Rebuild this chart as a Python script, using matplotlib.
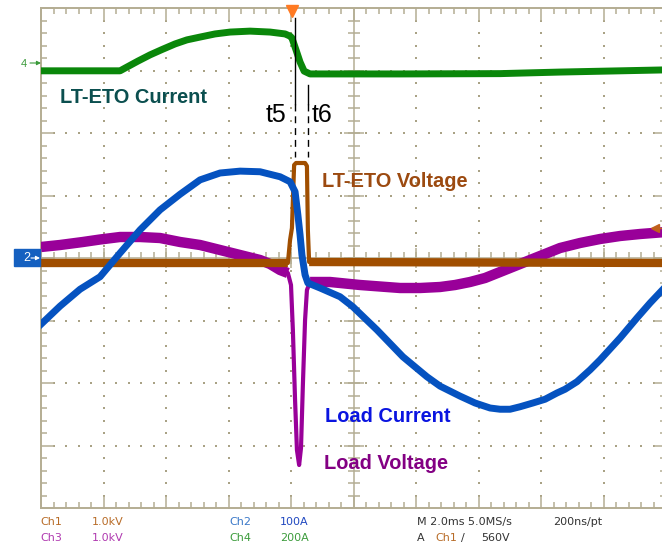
import numpy as np
import matplotlib
matplotlib.use("Agg")
import matplotlib.pyplot as plt
from matplotlib.patches import Rectangle

# ---------------- data (time in ms, 2 ms/div) ----------------
# Ch4 : LT-ETO current (A)
t_ch4 = [0.00, 2.53, 2.75, 3.10, 3.49, 3.87, 4.29, 4.67, 5.09, 5.57, 6.05,
         6.69, 7.33, 7.81, 7.97, 8.03, 8.16, 8.29, 8.42, 8.61, 11.49, 14.69,
         16.61, 20.00]
i_eto = [-25, -25, -13, 6, 26, 43, 61, 74, 83, 93, 99,
         102, 99, 93, 86, 80, 42, 3, -26, -35, -35, -34,
         -29, -22]

# Ch2 : load current (A)
t_ch2 = [0.00, 0.61, 1.25, 1.89, 2.53, 3.17, 3.81, 4.45, 5.09, 5.73, 6.37,
         7.01, 7.65, 7.97, 8.13, 8.22, 8.29, 8.35, 8.45, 8.54, 8.93, 9.57,
         9.98, 10.75, 11.58, 12.35, 12.77, 13.41, 13.89, 14.37, 14.69, 15.01,
         15.33, 15.74, 16.13, 16.51, 16.77, 17.15, 17.57, 17.89, 18.53, 19.07,
         19.49, 20.00]
i_load = [-106, -77, -50, -30, 8, 45, 77, 102, 125, 136, 139,
          138, 130, 122, 106, 69, 37, 5, -27, -40, -48, -62,
          -78, -115, -158, -190, -205, -221, -232, -240, -242, -242,
          -238, -232, -226, -216, -210, -198, -179, -163, -128, -96,
          -72, -45]

# Ch3 : load voltage (V)
t_ch3 = [0.00, 0.61, 1.34, 1.89, 2.53, 3.17, 3.81, 4.13, 4.45, 4.77, 5.09,
         5.41, 5.73, 6.05, 6.37, 6.69, 7.01, 7.33, 7.65,
         7.90, 8.00, 8.06, 8.13, 8.19, 8.26, 8.32, 8.38, 8.45, 8.51, 8.61,
         9.25, 10.21, 11.49, 12.13, 12.77, 13.25, 13.73, 14.21, 14.69, 15.17,
         15.65, 16.13, 16.61, 17.25, 17.89, 18.53, 19.17, 20.00]
v_load = [176, 208, 256, 296, 336, 336, 320, 288, 256, 232, 208,
          168, 128, 88, 48, 8, -32, -96, -192,
          -240, -432, -1152, -2272, -3072, -3312, -3040, -2032, -992, -512, -384,
          -384, -432, -480, -480, -464, -432, -384, -320, -224, -128,
          -32, 64, 160, 240, 304, 352, 384, 416]

# Ch1 : LT-ETO voltage (V)
t_ch1 = [0.00, 7.90, 7.97, 8.03, 8.10, 8.16, 8.45, 8.51, 8.54, 8.58, 20.00]
v_eto = [0, 0, 368, 560, 1568, 1600, 1600, 1552, 528, 16, 0]

# status-bar texts
ch_names = ["Ch1", "Ch3", "Ch2", "Ch4"]
ch_scales = ["1.0kV", "1.0kV", "100A", "200A"]
timebase = "M 2.0ms 5.0MS/s"
record = "200ns/pt"
trigger_level = "560V"

# channel vertical scales (units/div) and offsets (div)
SCALE = {"ch1": 1000.0, "ch2": 100.0, "ch3": 1000.0, "ch4": 200.0}
OFFSET = {"ch1": -0.08, "ch2": 0.0, "ch3": 0.0, "ch4": 3.12}

# ---------------- styling ----------------
FRAME = "#b4ad93"
DOT = "#a9a285"
C_GREEN = "#0a870a"
C_BLUE = "#0552c0"
C_PURP = "#990099"
C_BROWN = "#a04e00"

fig = plt.figure(figsize=(6.62, 5.43), dpi=100)
fig.patch.set_facecolor("white")

W, H = 662.0, 543.0
L, T, R, B = 41.0, 8.0, 666.0, 508.0
ax = fig.add_axes([L / W, (H - B) / H, (R - L) / W, (B - T) / H])
ax.set_xlim(0, 20)
ax.set_ylim(-4, 4)
ax.set_facecolor("white")

for s in ax.spines.values():
    s.set_color(FRAME)
    s.set_linewidth(1.4)

ax.set_xticks(np.arange(0, 20.01, 2))
ax.set_xticks(np.arange(0, 20.01, 0.4), minor=True)
ax.set_yticks(np.arange(-4, 4.01, 1))
ax.set_yticks(np.arange(-4, 4.01, 0.2), minor=True)
ax.tick_params(which="both", direction="in", top=True, right=True,
               labelbottom=False, labelleft=False, color=FRAME, width=1.1)
ax.tick_params(which="major", length=9)
ax.tick_params(which="minor", length=4.5)

# dotted graticule
ys_fine = np.arange(-4, 4.01, 0.2)
xs_fine = np.arange(0, 20.01, 0.4)
for gx in [2, 4, 6, 8, 12, 14, 16, 18]:
    ax.scatter(np.full_like(ys_fine, gx), ys_fine, s=1.6, marker="s",
               color=DOT, linewidths=0, zorder=1)
for gy in [-3, -2, -1, 1, 2, 3]:
    ax.scatter(xs_fine, np.full_like(xs_fine, gy), s=1.6, marker="s",
               color=DOT, linewidths=0, zorder=1)

# centre cross-hair with ticks
ax.axvline(10, color=FRAME, lw=1.1, zorder=1)
ax.axhline(0, color=FRAME, lw=1.1, zorder=1)
ax.plot(np.full_like(ys_fine, 10), ys_fine, ls="none", marker="_", ms=8,
        mew=1.1, color=FRAME, zorder=1)
ax.plot(xs_fine, np.zeros_like(xs_fine), ls="none", marker="|", ms=8,
        mew=1.1, color=FRAME, zorder=1)
ax.plot(np.full(9, 10), np.arange(-4, 5), ls="none", marker="_", ms=14,
        mew=1.1, color=FRAME, zorder=1)
ax.plot(np.arange(0, 21, 2), np.zeros(11), ls="none", marker="|", ms=14,
        mew=1.1, color=FRAME, zorder=1)


def to_div(vals, ch):
    return np.asarray(vals, float) / SCALE[ch] + OFFSET[ch]


def split_thick(t, y, lo, hi):
    t = np.asarray(t, float)
    y = np.array(y, float)
    y2 = y.copy()
    y2[(t > lo) & (t < hi)] = np.nan
    return t, y2


# Ch3 (purple) - bottom
tp = np.asarray(t_ch3)
yp = to_div(v_load, "ch3")
ax.plot(tp, yp, color=C_PURP, lw=3.0, zorder=3, solid_joinstyle="round")
t2, y2 = split_thick(tp, yp, 7.95, 8.58)
ax.plot(t2, y2, color=C_PURP, lw=7.5, zorder=3, solid_capstyle="butt",
        solid_joinstyle="round")

# Ch1 (brown)
tb = np.asarray(t_ch1)
yb = to_div(v_eto, "ch1")
ax.plot(tb, yb, color=C_BROWN, lw=3.0, zorder=4)
t2, y2 = split_thick(tb, yb, 7.93, 8.56)
ax.plot(t2, y2, color=C_BROWN, lw=6.0, zorder=4, solid_capstyle="butt")

# Ch2 (blue)
ax.plot(t_ch2, to_div(i_load, "ch2"), color=C_BLUE, lw=5.0, zorder=5,
        solid_joinstyle="round")

# Ch4 (green)
ax.plot(t_ch4, to_div(i_eto, "ch4"), color=C_GREEN, lw=5.0, zorder=6,
        solid_joinstyle="round")

# ---------------- overlay in pixel coordinates ----------------
ov = fig.add_axes([0, 0, 1, 1], zorder=10)
ov.set_xlim(0, W)
ov.set_ylim(H, 0)
ov.axis("off")

LABEL_FONT = ["Liberation Sans", "DejaVu Sans"]
ov.text(60, 103, "LT-ETO Current", color="#0b4f4f", fontsize=14.4,
        fontweight="bold", family=LABEL_FONT, va="baseline")
ov.text(322, 187, "LT-ETO Voltage", color="#9c4a10", fontsize=14.4,
        fontweight="bold", family=LABEL_FONT, va="baseline")
ov.text(325, 422, "Load Current", color="#0a14e0", fontsize=14.4,
        fontweight="bold", family=LABEL_FONT, va="baseline")
ov.text(324, 469, "Load Voltage", color="#830083", fontsize=14.4,
        fontweight="bold", family=LABEL_FONT, va="baseline")

ov.text(266, 122, "t5", color="black", fontsize=18, family=LABEL_FONT,
        va="baseline")
ov.text(312, 122, "t6", color="black", fontsize=18, family=LABEL_FONT,
        va="baseline")

# t5 / t6 markers
ov.plot([295, 295], [18, 104], color="black", lw=1.0)
ov.plot([295, 295], [104, 157], color="black", lw=1.0, ls=(0, (5, 3.5)))
ov.plot([308, 308], [85, 104], color="black", lw=1.0)
ov.plot([308, 308], [104, 157], color="black", lw=1.0, ls=(0, (5, 3.5)))

# trigger position marker
ov.plot(292, 10.5, marker="v", ms=9, color="#ff7a22", mec="#ff7a22",
        clip_on=False)
# trigger level marker
ov.plot([655, 662], [228, 228], color="#c0601c", lw=1.0)
ov.plot(655, 228, marker="<", ms=6, color="#c0601c")

# channel ground markers
ov.text(21, 64, "4", color="#3a9a3a", fontsize=8, va="center",
        family=LABEL_FONT)
ov.annotate("", xy=(41, 63), xytext=(30, 63),
            arrowprops=dict(arrowstyle="-|>", color="#3a9a3a", lw=0.8,
                            mutation_scale=6, shrinkA=0, shrinkB=0))
ov.add_patch(Rectangle((14, 249), 26, 17, color="#1560c0", zorder=11))
ov.text(23, 258, "2", color="white", fontsize=9, va="center",
        family=LABEL_FONT, zorder=12)
ov.annotate("", xy=(40, 258), xytext=(31, 258), zorder=12,
            arrowprops=dict(arrowstyle="-|>", color="white", lw=0.8,
                            mutation_scale=6, shrinkA=0, shrinkB=0))

# status bar
SF = ["Liberation Sans Narrow", "DejaVu Sans"]
fs = 8
row1, row2 = 525, 541
ov.text(40, row1, ch_names[0], color="#b86c28", fontsize=fs, family=SF)
ov.text(92, row1, ch_scales[0], color="#b86c28", fontsize=fs, family=SF)
ov.text(40, row2, ch_names[1], color="#b03ab0", fontsize=fs, family=SF)
ov.text(92, row2, ch_scales[1], color="#b03ab0", fontsize=fs, family=SF)
ov.text(229, row1, ch_names[2], color="#3a78c8", fontsize=fs, family=SF)
ov.text(280, row1, ch_scales[2], color="#2048c0", fontsize=fs, family=SF)
ov.text(229, row2, ch_names[3], color="#3c9c3c", fontsize=fs, family=SF)
ov.text(280, row2, ch_scales[3], color="#3c9c3c", fontsize=fs, family=SF)
ov.text(417, row1, timebase, color="#333333", fontsize=fs, family=SF)
ov.text(553, row1, record, color="#333333", fontsize=fs, family=SF)
ov.text(417, row2, "A", color="#333333", fontsize=fs, family=SF)
ov.text(435, row2, ch_names[0], color="#b86c28", fontsize=fs, family=SF)
ov.text(461, row2, "/", color="#333333", fontsize=fs, family=SF)
ov.text(481, row2, trigger_level, color="#333333", fontsize=fs, family=SF)

fig.savefig("out.png", dpi=100)
